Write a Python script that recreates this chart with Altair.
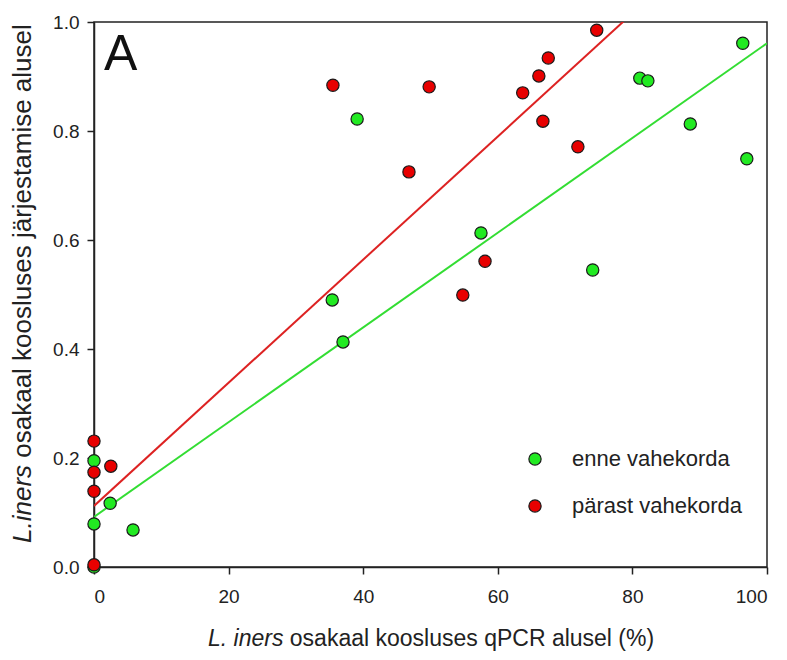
import altair as alt
import pandas as pd

# ---- data ----
enne_x = [0, 0, 0, 2.4, 5.8, 35.4, 37.0, 39.1, 57.5, 74.1, 81.1, 82.3, 88.6, 96.4, 97.0]
enne_y = [0.0, 0.195, 0.079, 0.117, 0.068, 0.490, 0.413, 0.822, 0.613, 0.545, 0.897, 0.892, 0.813, 0.961, 0.749]
parast_x = [0, 0, 0, 0, 2.5, 35.5, 46.8, 49.8, 54.8, 58.1, 63.7, 66.1, 66.7, 67.5, 71.9, 74.7]
parast_y = [0.231, 0.174, 0.139, 0.004, 0.185, 0.884, 0.725, 0.881, 0.499, 0.561, 0.870, 0.901, 0.818, 0.934, 0.771, 0.985]

groups = ["enne vahekorda", "pärast vahekorda"]
fill_colors = ["#22ea22", "#e80000"]
line_colors = ["#33dd33", "#dd2222"]
fit_intercept = [0.092, 0.112]
fit_slope = [0.00869, 0.0113]
fit_range = [0, 100]
x_ticks = [0, 20, 40, 60, 80, 100]
y_ticks = [0.0, 0.2, 0.4, 0.6, 0.8, 1.0]

FONT = "Liberation Sans"
W, H = 673, 545

pts = pd.concat([
    pd.DataFrame({"x": enne_x, "y": enne_y, "group": groups[0], "order": 0}),
    pd.DataFrame({"x": parast_x, "y": parast_y, "group": groups[1], "order": 1}),
], ignore_index=True)

fit_rows = []
for g, b, m in zip(groups, fit_intercept, fit_slope):
    for xv in fit_range:
        fit_rows.append({"x": xv, "y": b + m * xv, "series": g})
fits = pd.DataFrame(fit_rows)

xs = alt.Scale(domain=[0, 100], nice=False, zero=False)
ys = alt.Scale(domain=[0, 1], nice=False, zero=False)

xaxis = alt.Axis(values=x_ticks, format="d", title=None, grid=False, tickSize=7,
                 labelFontSize=19, labelPadding=13, labelFont=FONT, labelColor="#222",
                 domainColor="#222", tickColor="#222", domainWidth=1.5, tickWidth=1.5)
yaxis = alt.Axis(values=y_ticks, format=".1f", title=None, grid=False, tickSize=7,
                 labelFontSize=19, labelPadding=8, labelFont=FONT, labelColor="#222",
                 domainColor="#222", tickColor="#222", domainWidth=1.5, tickWidth=1.5)

lines = alt.Chart(fits).mark_line(clip=True, strokeWidth=2).encode(
    x=alt.X("x:Q", scale=xs, axis=xaxis),
    y=alt.Y("y:Q", scale=ys, axis=yaxis),
    stroke=alt.Stroke("series:N", scale=alt.Scale(domain=groups, range=line_colors), legend=None),
)

points = alt.Chart(pts).mark_circle(size=150, opacity=1, stroke="#1a1a1a", strokeWidth=1.2).encode(
    x=alt.X("x:Q", scale=xs),
    y=alt.Y("y:Q", scale=ys),
    color=alt.Color("group:N", scale=alt.Scale(domain=groups, range=fill_colors),
                    legend=alt.Legend(title=None, orient="none", legendX=430, legendY=426,
                                      padding=0, symbolType="circle", symbolSize=150,
                                      symbolStrokeColor="#1a1a1a", symbolStrokeWidth=1.2,
                                      symbolOpacity=1, labelLimit=400,
                                      labelFontSize=22, labelFont=FONT, labelColor="#222",
                                      labelOffset=26, rowPadding=25)),
    order=alt.Order("order:Q"),
)

one = pd.DataFrame({"k": [0]})

y_title_size = 26
y_it = "L.iners"
y_rest = "osakaal koosluses järjestamise alusel"
y_start = 521
y_it_w = (3.001 + 0.278) * y_title_size
ytitle_it = alt.Chart(one).mark_text(text=y_it, font=FONT, fontSize=y_title_size, fontStyle="italic",
                                      angle=270, align="left", baseline="alphabetic", color="#222").encode(
    x=alt.value(-63), y=alt.value(y_start))
ytitle_rest = alt.Chart(one).mark_text(text=y_rest, font=FONT, fontSize=y_title_size,
                                        angle=270, align="left", baseline="alphabetic", color="#222").encode(
    x=alt.value(-63), y=alt.value(y_start - y_it_w))

x_title_size = 23
x_it = "L. iners"
x_rest = "osakaal koosluses qPCR alusel (%)"
x_start = 114
x_it_w = (3.279 + 0.278) * x_title_size
xtitle_it = alt.Chart(one).mark_text(text=x_it, font=FONT, fontSize=x_title_size, fontStyle="italic",
                                      align="left", baseline="alphabetic", color="#222").encode(
    x=alt.value(x_start), y=alt.value(624))
xtitle_rest = alt.Chart(one).mark_text(text=x_rest, font=FONT, fontSize=x_title_size,
                                        align="left", baseline="alphabetic", color="#222").encode(
    x=alt.value(x_start + x_it_w), y=alt.value(624))

panel = alt.Chart(one).mark_text(text="A", font=FONT, fontSize=50, align="left",
                                  baseline="alphabetic", color="#111").encode(
    x=alt.value(10), y=alt.value(48))

chart = alt.layer(lines, points, ytitle_it, ytitle_rest, xtitle_it, xtitle_rest, panel).properties(
    width=W, height=H,
    autosize=alt.AutoSizeParams(type="none"),
    padding={"left": 94, "top": 22, "right": 20, "bottom": 93},
    background="white",
).resolve_legend(color="independent", stroke="independent").configure_view(stroke="#222", strokeWidth=1.5)

chart.save("out.html", embed_options={"renderer": "svg", "actions": False})
